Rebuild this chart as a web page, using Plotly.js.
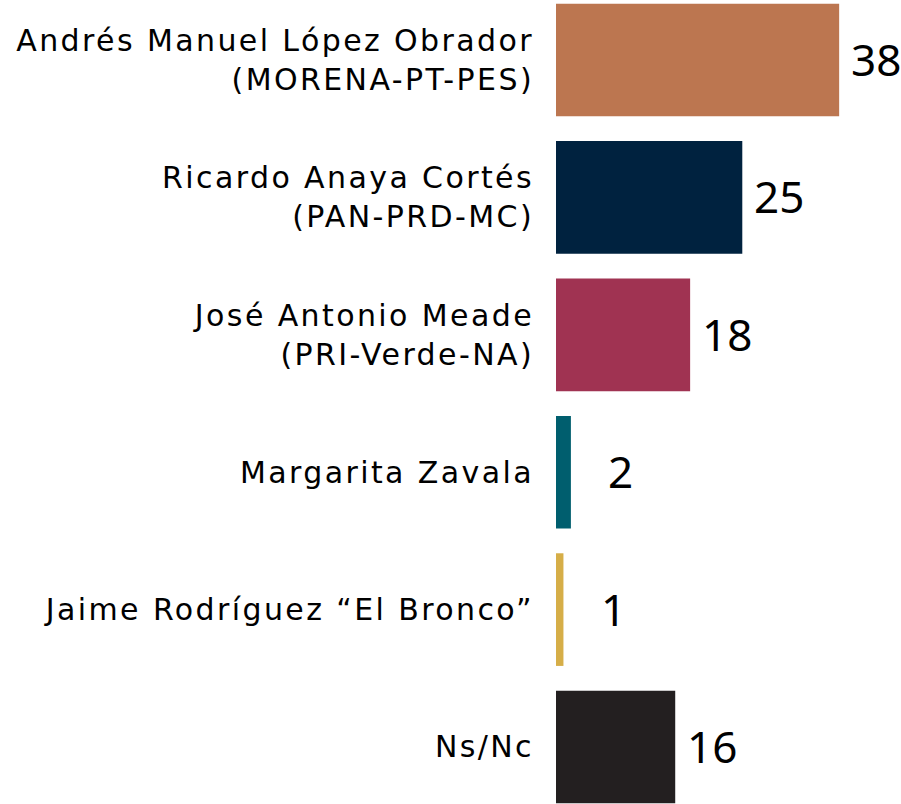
<!DOCTYPE html>
<html>
<head>
<meta charset="utf-8">
<script src="https://cdn.plot.ly/plotly-3.0.1.min.js"></script>
<style>
html,body{margin:0;padding:0;background:#fff;}
#chart{width:901px;height:804px;}
#chart .ytick text{letter-spacing:2.4px;}
</style>
</head>
<body>
<div id="chart"></div>
<script>
const categories = [
  "Andrés Manuel López Obrador<br>(MORENA-PT-PES)",
  "Ricardo Anaya Cortés<br>(PAN-PRD-MC)",
  "José Antonio Meade<br>(PRI-Verde-NA)",
  "Margarita Zavala",
  "Jaime Rodríguez “El Bronco”",
  "Ns/Nc"
];
const values = [38, 25, 18, 2, 1, 16];
const colors = ["#BC7650", "#00223F", "#A03352", "#005E6E", "#D6AE48", "#231F20"];

const trace = {
  type: "bar",
  orientation: "h",
  y: categories,
  x: values,
  width: 0.82,
  marker: {color: colors},
  hoverinfo: "none"
};

const annotations = values.map((v, i) => ({
  x: v, y: categories[i], xref: "x", yref: "y",
  text: String(v), showarrow: false,
  xanchor: "center", yanchor: "middle", xshift: v < 5 ? 50 : 37, yshift: 1,
  font: {family: "Noto Sans, sans-serif", size: 44, color: "#000"}
}));

const layout = {
  width: 901, height: 804,
  margin: {l: 556, r: 0, t: 0, b: 0},
  paper_bgcolor: "#fff", plot_bgcolor: "#fff",
  showlegend: false,
  xaxis: {range: [0, 46.3], visible: false, fixedrange: true},
  yaxis: {
    type: "category",
    range: [5.415, -0.437],
    showgrid: false, zeroline: false, showline: false,
    ticks: "", ticklabelstandoff: 21,
    tickfont: {family: "DejaVu Sans, sans-serif", size: 30, color: "#000"}
  },
  annotations: annotations
};

Plotly.newPlot("chart", [trace], layout, {displayModeBar: false, staticPlot: true});
</script>
</body>
</html>
